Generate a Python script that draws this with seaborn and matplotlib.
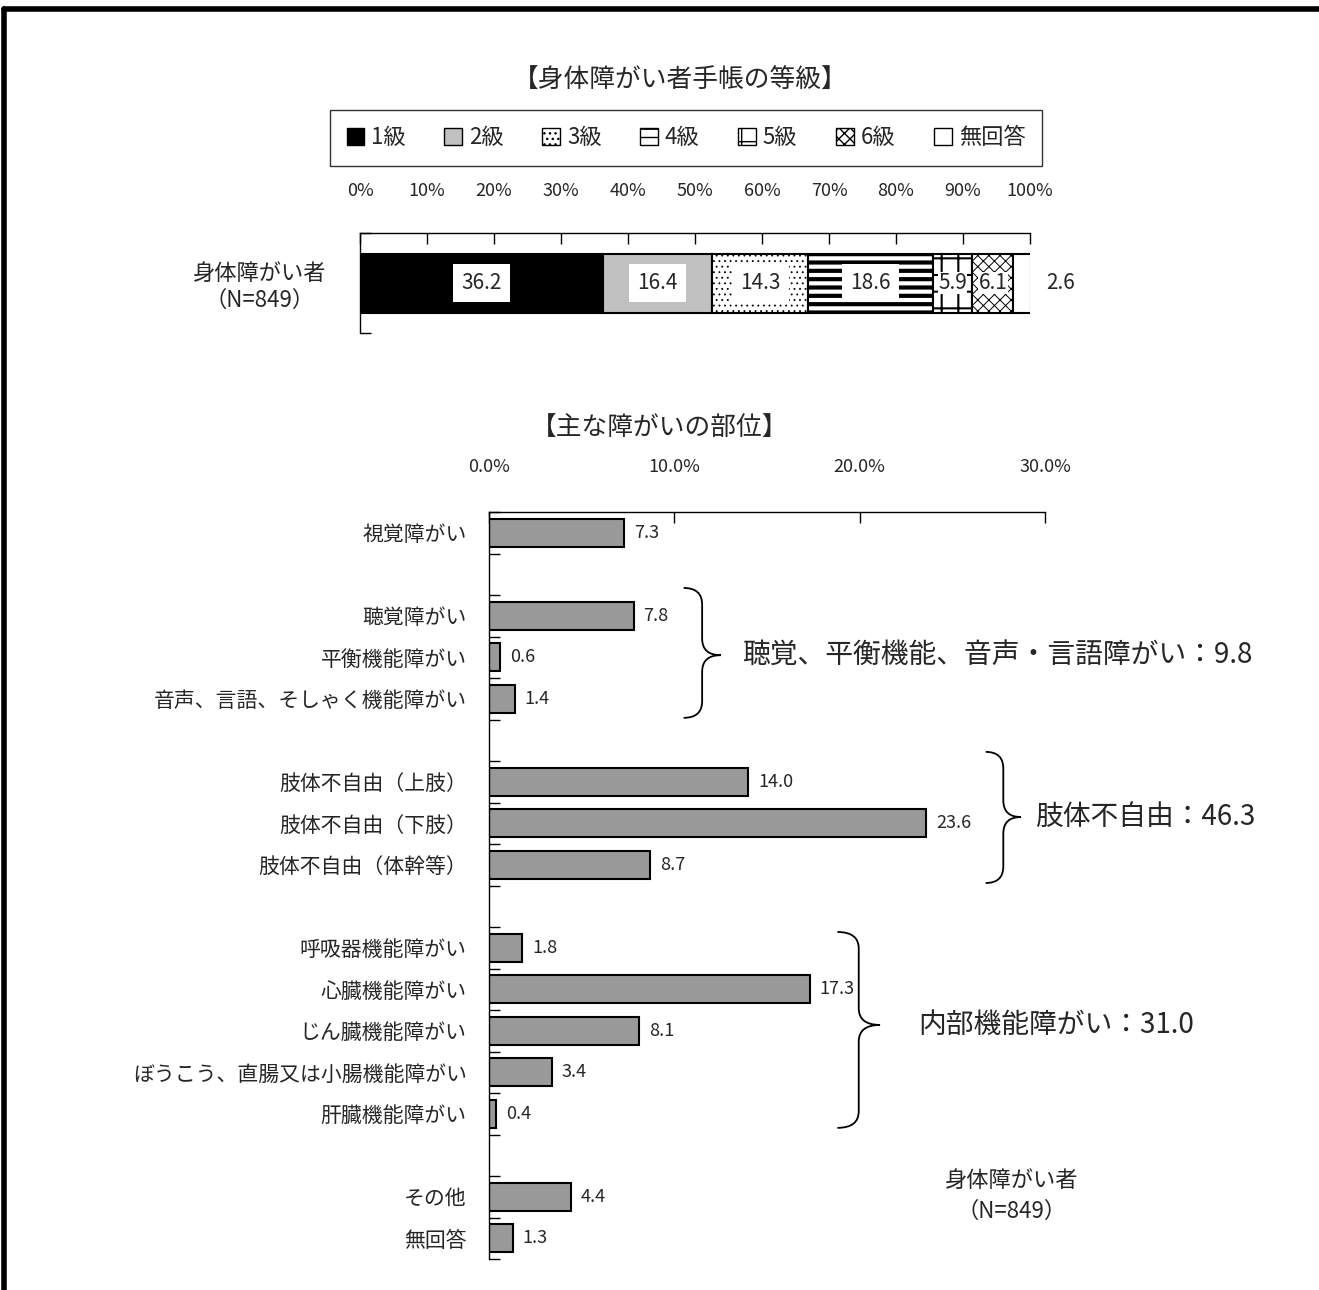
import numpy as np
import pandas as pd
import matplotlib
matplotlib.use("Agg")
import matplotlib.pyplot as plt
import seaborn as sns
from matplotlib.patches import Patch, PathPatch
from matplotlib.path import Path
from matplotlib.lines import Line2D

# --- data ---
grade_labels = ["1級", "2級", "3級", "4級", "5級", "6級", "無回答"]
grade_values = [36.2, 16.4, 14.3, 18.6, 5.9, 6.1, 2.6]
grade_tick_labels = ["0%", "10%", "20%", "30%", "40%", "50%", "60%", "70%", "80%", "90%", "100%"]

part_labels = ["視覚障がい",
               "聴覚障がい", "平衡機能障がい", "音声、言語、そしゃく機能障がい",
               "肢体不自由（上肢）", "肢体不自由（下肢）", "肢体不自由（体幹等）",
               "呼吸器機能障がい", "心臓機能障がい", "じん臓機能障がい",
               "ぼうこう、直腸又は小腸機能障がい", "肝臓機能障がい",
               "その他", "無回答"]
part_values = [7.3, 7.8, 0.6, 1.4, 14.0, 23.6, 8.7, 1.8, 17.3, 8.1, 3.4, 0.4, 4.4, 1.3]
part_order = ["視覚障がい", "_b1",
              "聴覚障がい", "平衡機能障がい", "音声、言語、そしゃく機能障がい", "_b2",
              "肢体不自由（上肢）", "肢体不自由（下肢）", "肢体不自由（体幹等）", "_b3",
              "呼吸器機能障がい", "心臓機能障がい", "じん臓機能障がい",
              "ぼうこう、直腸又は小腸機能障がい", "肝臓機能障がい", "_b4",
              "その他", "無回答"]
group_texts = ["聴覚、平衡機能、音声・言語障がい：9.8", "肢体不自由：46.3", "内部機能障がい：31.0"]

sns.set_theme(style="white")
plt.rcParams["font.family"] = ["Noto Sans CJK JP", "DejaVu Sans"]

W, H = 1319, 1290
fig = plt.figure(figsize=(W / 100, H / 100), dpi=100)

# grade styles
faces = ["black", "#c0c0c0", "white", "white", "white", "white", "white"]
hatches = [None, None, "...", "--", "+", "xxx", None]
hatch_lw = [1, 1, 0.6, 3.0, 1.5, 0.7, 1]

# --- top chart: stacked bar ---
ax1 = fig.add_axes([360 / W, 1 - 333 / H, 670 / W, 100 / H])
left = 0
for lab, v, fc, ht, hl in zip(grade_labels, grade_values, faces, hatches, hatch_lw):
    with plt.rc_context({"hatch.linewidth": hl}):
        ax1.barh(0, v, left=left, height=0.59, color=fc, edgecolor="black",
                 linewidth=1.5, hatch=ht)
    left += v
left = 0
for i, v in enumerate(grade_values):
    c = left + v / 2
    if i == len(grade_values) - 1:
        ax1.text(104.5, 0, f"{v:.1f}", ha="center", va="center", fontsize=15)
    else:
        pad = 0.4 if v > 10 else 0.02
        ax1.text(c, 0, f"{v:.1f}", ha="center", va="center", fontsize=15,
                 bbox=dict(boxstyle=f"square,pad={pad}", fc="white", ec="none"))
    left += v
ax1.set_xlim(0, 100)
ax1.set_ylim(0.5, -0.5)
ax1.set_xticks(np.arange(0, 101, 10))
ax1.set_xticklabels(grade_tick_labels, fontsize=13)
ax1.xaxis.tick_top()
ax1.tick_params(axis="x", direction="in", length=8, width=1, pad=24, color="black")
ax1.set_yticks([0])
ax1.set_yticklabels(["身体障がい者\n（N=849）"], fontsize=16, multialignment="center")
ax1.set_yticks([-0.5, 0.5], minor=True)
ax1.tick_params(axis="y", which="major", length=0, pad=24)
ax1.tick_params(axis="y", which="minor", direction="in", length=8, width=1, color="black", left=True)
for s in ["right", "bottom"]:
    ax1.spines[s].set_visible(False)
for s in ["top", "left"]:
    ax1.spines[s].set_color("black")
    ax1.spines[s].set_linewidth(1)

# legend
handles = []
for lab, fc, ht, hl in zip(grade_labels, faces, hatches, hatch_lw):
    with plt.rc_context({"hatch.linewidth": min(hl, 1.5)}):
        handles.append(Patch(facecolor=fc, edgecolor="black", hatch=ht, label=lab, linewidth=1))
leg = fig.legend(handles=handles, loc="center", bbox_to_anchor=(686 / W, 1 - 138 / H),
                 ncol=7, fontsize=16, frameon=True, fancybox=False, edgecolor="black",
                 handlelength=0.8, handleheight=0.8, handletextpad=0.3, columnspacing=1.75,
                 borderpad=0.75)
leg.get_frame().set_linewidth(1)

fig.text(680 / W, 1 - 80 / H, "【身体障がい者手帳の等級】", ha="center", va="center", fontsize=18.5)
fig.text(660 / W, 1 - 428 / H, "【主な障がいの部位】", ha="center", va="center", fontsize=18.5)

# --- bottom chart ---
df = pd.DataFrame({"label": part_labels, "value": part_values})
ax2 = fig.add_axes([489 / W, 1 - 1259 / H, 556 / W, 747 / H])
sns.barplot(data=df, x="value", y="label", order=part_order, orient="h", color="#999999",
            saturation=1, edgecolor="black", linewidth=1.5, width=0.68, errorbar=None, ax=ax2)
for cont in ax2.containers:
    ax2.bar_label(cont, fmt="%.1f", padding=7, fontsize=13)
ax2.set_xlim(0, 30)
ax2.set_ylim(len(part_order) - 0.5, -0.5)
ax2.set_xticks([0, 10, 20, 30])
ax2.set_xticklabels([f"{t:.1f}%" for t in [0, 10, 20, 30]], fontsize=13)
ax2.xaxis.tick_top()
ax2.tick_params(axis="x", direction="in", length=8, width=1, pad=26, color="black")
ax2.set_yticks(range(len(part_order)))
ax2.set_yticklabels(["" if p.startswith("_b") else p for p in part_order], fontsize=15)
ax2.set_yticks(np.arange(-0.5, len(part_order), 1), minor=True)
ax2.tick_params(axis="y", which="major", length=0, pad=16)
ax2.tick_params(axis="y", which="minor", direction="in", length=8, width=1, color="black", left=True)
ax2.set_xlabel("")
ax2.set_ylabel("")
for s in ["right", "bottom"]:
    ax2.spines[s].set_visible(False)
for s in ["top", "left"]:
    ax2.spines[s].set_color("black")
    ax2.spines[s].set_linewidth(1)


def brace(ax, x0, x1, yt, yb, ym, r=0.4):
    xm = (x0 + x1) / 2
    verts = [(x0, yt), (xm, yt), (xm, yt + r), (xm, ym - r), (xm, ym), (x1, ym),
             (xm, ym), (xm, ym + r), (xm, yb - r), (xm, yb), (x0, yb)]
    codes = [Path.MOVETO, Path.CURVE3, Path.CURVE3, Path.LINETO, Path.CURVE3, Path.CURVE3,
             Path.CURVE3, Path.CURVE3, Path.LINETO, Path.CURVE3, Path.CURVE3]
    ax.add_patch(PathPatch(Path(verts, codes), fc="none", ec="black", lw=1.3, clip_on=False))


brace(ax2, 10.5, 12.5, 1.33, 4.46, 2.95)
brace(ax2, 26.8, 28.7, 5.28, 8.44, 6.85)
brace(ax2, 18.8, 21.1, 9.62, 14.34, 11.86)
ax2.text(13.65, 2.95, group_texts[0], ha="left", va="center", fontsize=20, clip_on=False)
ax2.text(29.45, 6.85, group_texts[1], ha="left", va="center", fontsize=20, clip_on=False)
ax2.text(23.15, 11.86, group_texts[2], ha="left", va="center", fontsize=20, clip_on=False)
ax2.text(28.2, 15.6, "身体障がい者", ha="center", va="center", fontsize=16)
ax2.text(28.2, 16.35, "（N=849）", ha="center", va="center", fontsize=16)

# outer frame (top and left)
fig.add_artist(Line2D([4 / W, 1], [1 - 9 / H, 1 - 9 / H], color="black", lw=4,
                      transform=fig.transFigure))
fig.add_artist(Line2D([4 / W, 4 / W], [0, 1 - 9 / H], color="black", lw=4,
                      transform=fig.transFigure))

fig.savefig("out.png", dpi=100)
